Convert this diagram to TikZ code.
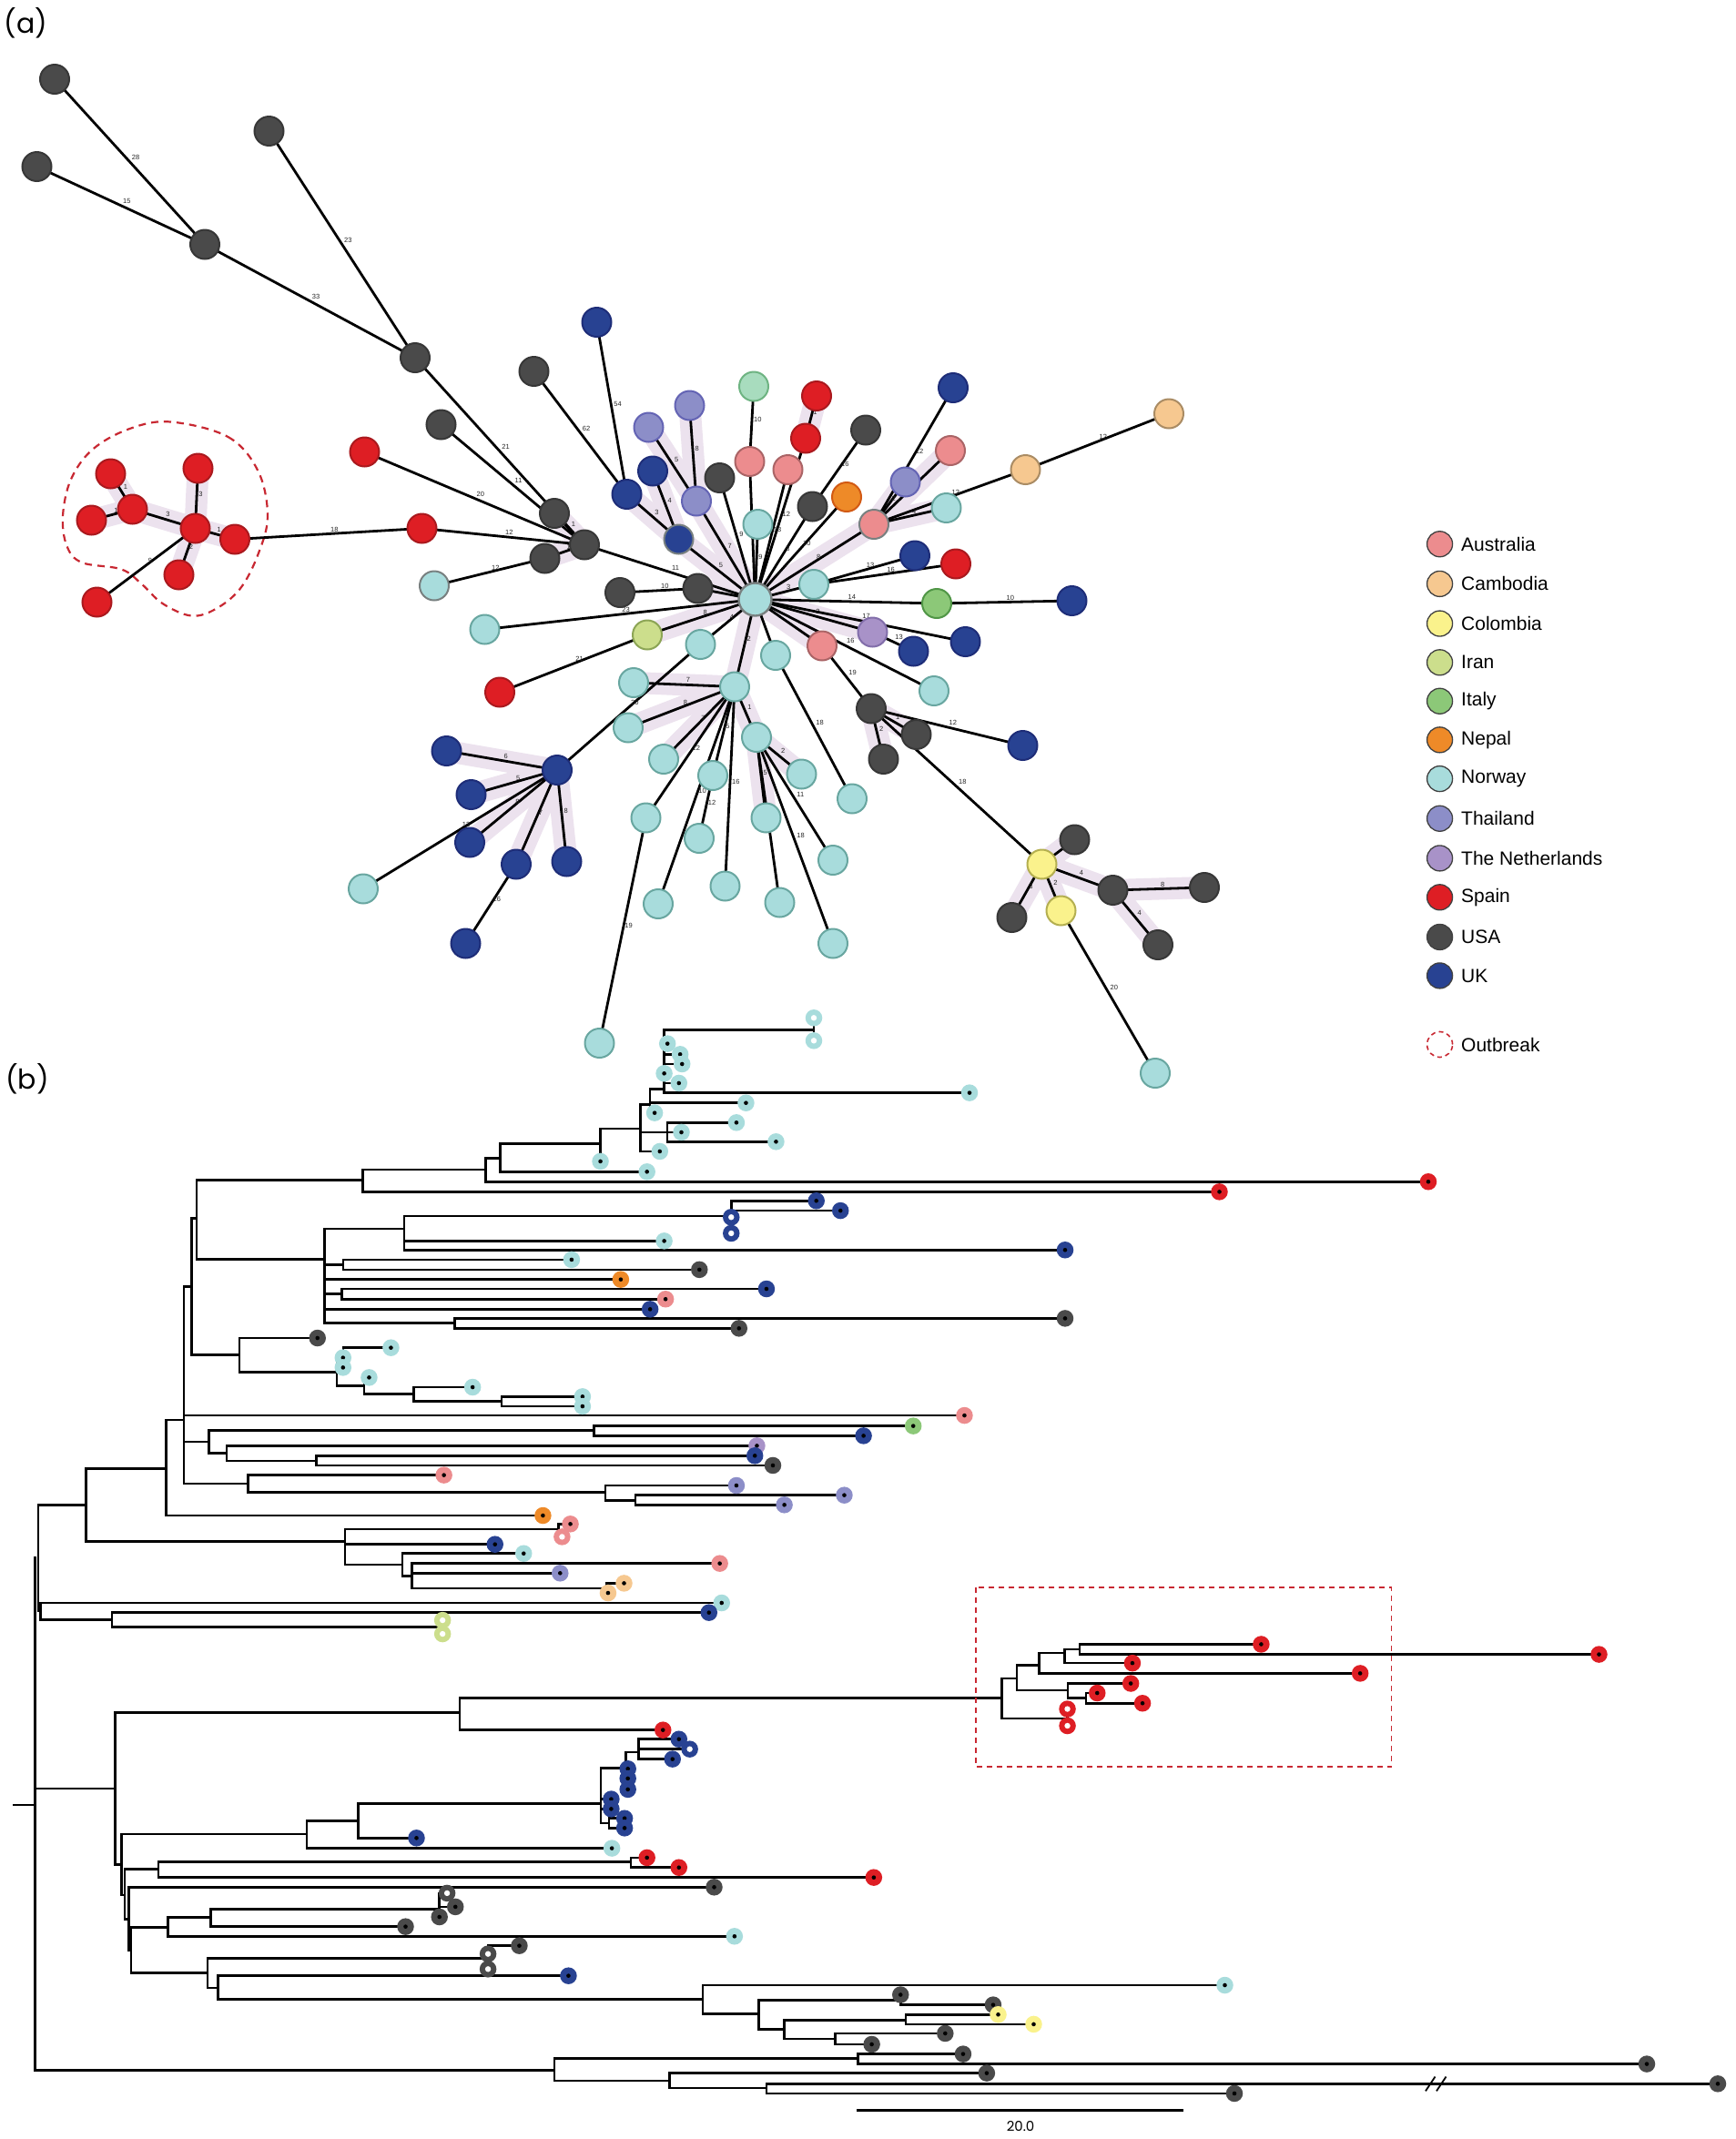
\documentclass[tikz,border=0pt]{standalone}
\usepackage{fontspec}
\setmainfont{Liberation Sans}
\newfontfamily\popfont{Poppins}
\definecolor{aus}{RGB}{236,140,142}\definecolor{ausb}{RGB}{170,100,102}
\definecolor{cam}{RGB}{246,200,144}\definecolor{camb}{RGB}{170,140,100}
\definecolor{col}{RGB}{250,242,140}\definecolor{colb}{RGB}{180,175,80}
\definecolor{iran}{RGB}{204,222,140}\definecolor{iranb}{RGB}{140,165,85}
\definecolor{italy}{RGB}{140,200,120}\definecolor{italyb}{RGB}{80,150,70}
\definecolor{nepal}{RGB}{238,138,40}\definecolor{nepalb}{RGB}{210,90,20}
\definecolor{nor}{RGB}{168,220,220}\definecolor{norb}{RGB}{104,166,160}
\definecolor{thai}{RGB}{140,142,200}\definecolor{thaib}{RGB}{100,100,180}
\definecolor{nl}{RGB}{168,146,200}\definecolor{nlb}{RGB}{130,110,170}
\definecolor{spain}{RGB}{222,30,36}\definecolor{spainb}{RGB}{170,25,30}
\definecolor{usa}{RGB}{74,74,74}\definecolor{usab}{RGB}{55,55,55}
\definecolor{uk}{RGB}{40,66,146}\definecolor{ukb}{RGB}{30,45,120}
\definecolor{mint}{RGB}{168,220,190}\definecolor{mintb}{RGB}{110,180,130}
\definecolor{shade}{RGB}{236,226,238}
\definecolor{obred}{RGB}{200,40,50}
\definecolor{grb}{RGB}{120,128,128}
\newcommand\ED[3]{\draw[ed] (#1) -- (#2) node[lbl, midway]{#3};}
\newcommand\SH[2]{\draw[shd] (#1) -- (#2);}
\newcommand\VB[3]{\draw[tr] (#1,#2) -- (#1,#3);}
\newcommand\HB[3]{\draw[tr] (#1,#3) -- (#2,#3);}
\newcommand\tp[4]{\node[tipm, fill=#4] (#1) at (#2,#3) {};}
\newcommand\tpr[4]{\node[tipr, fill=#4] (#1) at (#2,#3) {};}
\begin{document}
\begin{tikzpicture}[x=1.5pt,y=-1.5pt,
 nd/.style={circle, inner sep=0pt, minimum size=32pt, line width=2pt},
 ed/.style={line width=2.8pt, black},
 shd/.style={line width=24pt, color=shade, line cap=round},
 lbl/.style={font=\fontsize{7.5}{8}\selectfont, inner sep=1pt, anchor=south west, text=black!85},
 tr/.style={line width=2.5pt, black, line cap=rect},
 tipm/.style={circle, inner sep=0pt, minimum size=18.5pt, draw=none, path picture={\fill[black] (path picture bounding box.center) circle (2.3pt);}},
 tipr/.style={circle, inner sep=0pt, minimum size=18.5pt, draw=none, path picture={\fill[white] (path picture bounding box.center) circle (3.2pt);}},
 leg/.style={circle, inner sep=0pt, minimum size=28pt, line width=1.3pt},
 legt/.style={anchor=west, font=\fontsize{21}{24}\selectfont, inner sep=0pt},
 obline/.style={draw=obred, line width=2.2pt, dash pattern=on 8pt off 6pt}]
\useasboundingbox (0,0) rectangle (1271.33,1566.67);
\fill[white] (0,0) rectangle (1271.33,1566.67);
% ---------- labels (a) (b)
\node[font=\popfont\fontsize{30}{34}\selectfont, inner sep=0pt] (pa) at (19,17) {(a)};
\node[font=\popfont\fontsize{30}{34}\selectfont, inner sep=0pt] (pb) at (20,790.5) {(b)};
% ---------- network coordinates
\coordinate (u1) at (40,58); \coordinate (u2) at (27,122); \coordinate (u3) at (197,96);
\coordinate (u4) at (150,179); \coordinate (u5) at (304,262); \coordinate (u6) at (391,272);
\coordinate (u7) at (323,311); \coordinate (u8) at (406,376); \coordinate (u9) at (428,399);
\coordinate (u10) at (399,409); \coordinate (u11) at (454,434); \coordinate (u12) at (511,431);
\coordinate (ra) at (267,331); \coordinate (rb) at (309,387); \coordinate (lbx) at (318,429);
\coordinate (o1) at (81,347); \coordinate (o2) at (97,373); \coordinate (o3) at (67,381);
\coordinate (o4) at (145,343); \coordinate (o5) at (143,387); \coordinate (o6) at (172,395);
\coordinate (o7) at (131,421); \coordinate (o8) at (71,441);
\coordinate (C) at (553,439);
\coordinate (b1) at (437,236); \coordinate (th1) at (505,297); \coordinate (th2) at (475,313);
\coordinate (b2) at (478,345); \coordinate (b3) at (459,362); \coordinate (th3) at (510,367);
\coordinate (g1) at (527,350); \coordinate (b4) at (497,395);
\coordinate (mint) at (552,283); \coordinate (rd1) at (598,290); \coordinate (rd2) at (590,321);
\coordinate (pk1) at (549,338); \coordinate (pk2) at (577,344); \coordinate (g2) at (634,315);
\coordinate (g3) at (595,371); \coordinate (orng) at (620,364); \coordinate (lb1) at (555,384);
\coordinate (b5) at (698,284); \coordinate (pk3) at (696,330); \coordinate (th4) at (663,353);
\coordinate (pk4) at (640,384); \coordinate (lb2) at (693,372); \coordinate (cb1) at (751,344);
\coordinate (cb2) at (856,303);
\coordinate (b6) at (670,407); \coordinate (rd3) at (700,413); \coordinate (lb3) at (596,428);
\coordinate (it) at (686,442); \coordinate (b7) at (785,440);
\coordinate (lb4) at (355,461); \coordinate (ir) at (474,465); \coordinate (rd4) at (366,507);
\coordinate (lb5) at (513,472); \coordinate (nl) at (639,463); \coordinate (b8) at (707,470);
\coordinate (pk5) at (602,473); \coordinate (b9) at (669,477); \coordinate (lb6) at (568,480);
\coordinate (lb7) at (684,506);
\coordinate (lbh) at (538,503); \coordinate (g4) at (638,519); \coordinate (g5) at (671,538);
\coordinate (g6) at (647,556); \coordinate (b10) at (749,546);
\coordinate (lb8) at (464,500); \coordinate (lb9) at (460,533); \coordinate (lb10) at (486,556);
\coordinate (lb11) at (473,599); \coordinate (lb12) at (522,568); \coordinate (lb13) at (512,614);
\coordinate (lb14) at (482,662); \coordinate (lb15) at (531,649); \coordinate (lb16) at (554,540);
\coordinate (lb17) at (561,599); \coordinate (lb18) at (587,567); \coordinate (lb19) at (571,661);
\coordinate (lb20) at (610,691); \coordinate (lb21) at (610,630); \coordinate (lb22) at (624,585);
\coordinate (lb23) at (439,764);
\coordinate (bh) at (408,564); \coordinate (b11) at (327,550); \coordinate (b12) at (345,582);
\coordinate (b13) at (344,617); \coordinate (b14) at (378,633); \coordinate (b15) at (415,631);
\coordinate (b16) at (341,691); \coordinate (lb24) at (266,651);
\coordinate (y1) at (763,633); \coordinate (y2) at (777,667); \coordinate (g7) at (787,615);
\coordinate (g8) at (815,652); \coordinate (g9) at (882,650); \coordinate (g10) at (848,692);
\coordinate (g11) at (741,672); \coordinate (lb25) at (846,786);
% ---------- shading
\SH{o1}{o2}\SH{o3}{o2}\SH{o2}{o5}\SH{o4}{o5}\SH{o5}{o6}\SH{o5}{o7}
\SH{u8}{u9}\SH{u10}{u9}
\SH{b3}{b4}\SH{b2}{b4}\SH{b4}{C}\SH{th2}{th3}\SH{th1}{th3}\SH{th3}{C}
\SH{rd1}{rd2}
\SH{pk3}{pk4}\SH{th4}{pk4}\SH{lb2}{pk4}\SH{pk4}{C}
\SH{C}{nl}\SH{C}{pk5}\SH{C}{lbh}\SH{C}{ir}\SH{C}{u12}
\SH{lbh}{lb8}\SH{lbh}{lb9}\SH{lbh}{lb10}\SH{lbh}{lb16}\SH{lb16}{lb17}\SH{lb16}{lb18}
\SH{bh}{b11}\SH{bh}{b12}\SH{bh}{b13}\SH{bh}{b14}\SH{bh}{b15}
\SH{g4}{g5}\SH{g4}{g6}
\SH{y1}{g7}\SH{y1}{g8}\SH{g8}{g9}\SH{g8}{g10}\SH{y1}{g11}\SH{y1}{y2}
% ---------- outbreak outline
\draw[obline] plot[smooth cycle, tension=0.6] coordinates {(125,309) (167,320) (189,345) (196,378) (189,406) (176,431) (158,446) (140,451) (119,442) (104,428) (89,417) (60,412) (49,400) (46,378) (52,351) (68,329) (95,314)};
% ---------- edges
\ED{u1}{u4}{28}\ED{u2}{u4}{15}\ED{u4}{u5}{33}\ED{u3}{u5}{23}\ED{u5}{u9}{21}\ED{u7}{u9}{11}
\ED{u8}{u9}{1}\ED{u10}{u9}{1}\ED{lbx}{u10}{12}\ED{ra}{u9}{20}\ED{rb}{u9}{12}\ED{u9}{C}{11}
\ED{u11}{u12}{10}\ED{u12}{C}{}
\ED{o6}{rb}{18}\ED{o1}{o2}{1}\ED{o3}{o2}{1}\ED{o2}{o5}{3}\ED{o4}{o5}{3}\ED{o5}{o6}{1}\ED{o5}{o7}{2}\ED{o5}{o8}{9}
\ED{b1}{b3}{54}\ED{u6}{b3}{62}\ED{b3}{b4}{3}\ED{b2}{b4}{4}\ED{b4}{C}{5}\ED{th2}{th3}{5}\ED{th1}{th3}{8}
\ED{th3}{C}{7}\ED{g1}{C}{9}\ED{mint}{pk1}{10}\ED{pk1}{C}{18}\ED{lb1}{C}{9}\ED{rd1}{rd2}{1}\ED{rd2}{C}{12}
\ED{pk2}{C}{13}\ED{g2}{g3}{16}\ED{g3}{C}{8}\ED{orng}{C}{10}
\ED{b5}{pk4}{12}\ED{pk3}{pk4}{7}\ED{th4}{pk4}{2}\ED{lb2}{pk4}{4}\ED{pk4}{cb1}{12}\ED{cb1}{cb2}{12}\ED{pk4}{C}{8}
\ED{lb3}{C}{3}\ED{lb3}{b6}{13}\ED{lb3}{rd3}{16}\ED{it}{C}{14}\ED{it}{b7}{10}
\ED{C}{nl}{2}\ED{C}{b8}{17}\ED{nl}{b9}{13}\ED{C}{pk5}{}\ED{pk5}{g4}{19}\ED{C}{lb7}{16}\ED{C}{lb6}{}\ED{lb6}{lb22}{18}
\ED{C}{lbh}{2}\ED{C}{lb5}{4}\ED{C}{ir}{8}\ED{ir}{rd4}{21}\ED{C}{lb4}{23}\ED{lb5}{bh}{20}
\ED{lbh}{lb8}{7}\ED{lbh}{lb9}{8}\ED{lbh}{lb10}{7}\ED{lbh}{lb11}{12}\ED{lbh}{lb12}{5}\ED{lb12}{lb13}{12}
\ED{lbh}{lb14}{10}\ED{lbh}{lb15}{16}\ED{lbh}{lb16}{1}\ED{lb16}{lb17}{5}\ED{lb16}{lb18}{2}\ED{lb16}{lb19}{13}
\ED{lb16}{lb20}{18}\ED{lb16}{lb21}{11}\ED{lb11}{lb23}{19}
\ED{bh}{b11}{6}\ED{bh}{b12}{5}\ED{bh}{b13}{8}\ED{bh}{b14}{7}\ED{bh}{b15}{8}\ED{bh}{lb24}{13}\ED{b14}{b16}{16}
\ED{g4}{g5}{1}\ED{g4}{g6}{2}\ED{g4}{b10}{12}\ED{g4}{y1}{18}\ED{y1}{g7}{1}\ED{y1}{g8}{4}\ED{g8}{g9}{8}
\ED{g8}{g10}{4}\ED{y1}{g11}{3}\ED{y1}{y2}{2}\ED{y2}{lb25}{20}
% ---------- network nodes
\foreach \n in {u1,u2,u3,u4,u5,u6,u7,u8,u9,u10,u11,u12,g1,g2,g3,g4,g5,g6,g7,g8,g9,g10,g11}
  \node[nd, fill=usa, draw=usab] (\n-n) at (\n) {};
\foreach \n in {ra,rb,o1,o2,o3,o4,o5,o6,o7,o8,rd1,rd2,rd3,rd4}
  \node[nd, fill=spain, draw=spainb] (\n-n) at (\n) {};
\foreach \n in {lb1,lb2,lb3,lb4,lb5,lb6,lb7,lbh,lb8,lb9,lb10,lb11,lb12,lb13,lb14,lb15,lb16,lb17,lb18,lb19,lb20,lb21,lb22,lb23,lb24,lb25}
  \node[nd, fill=nor, draw=norb] (\n-n) at (\n) {};
\foreach \n in {b1,b2,b3,b5,b6,b7,b8,b9,b10,bh,b11,b12,b13,b14,b15,b16}
  \node[nd, fill=uk, draw=ukb] (\n-n) at (\n) {};
\foreach \n in {th1,th2,th3,th4}
  \node[nd, fill=thai, draw=thaib] (\n-n) at (\n) {};
\foreach \n in {pk1,pk2,pk3,pk5}
  \node[nd, fill=aus, draw=ausb] (\n-n) at (\n) {};
\foreach \n in {cb1,cb2}
  \node[nd, fill=cam, draw=camb] (\n-n) at (\n) {};
\foreach \n in {y1,y2}
  \node[nd, fill=col, draw=colb] (\n-n) at (\n) {};
\node[nd, fill=italy, draw=italyb] (it-n) at (it) {};
\node[nd, fill=iran, draw=iranb] (ir-n) at (ir) {};
\node[nd, fill=nl, draw=nlb] (nl-n) at (nl) {};
\node[nd, fill=nepal, draw=nepalb] (orng-n) at (orng) {};
\node[nd, fill=mint, draw=mintb] (mint-n) at (mint) {};
\node[nd, fill=aus, draw=grb] (pk4-n) at (pk4) {};
\node[nd, fill=uk, draw=grb] (b4-n) at (b4) {};
\node[nd, fill=nor, draw=grb] (lbx-n) at (lbx) {};
\node[nd, fill=nor, draw=grb, minimum size=36pt, line width=2.4pt] (C-n) at (C) {};
% ---------- legend
\foreach \c/\t/\y in {aus/Australia/398.5, cam/Cambodia/427.6, col/Colombia/456.7, iran/Iran/485.2,
  italy/Italy/513.5, nepal/Nepal/541.9, nor/Norway/570.4, thai/Thailand/599.5,
  nl/The Netherlands/628.6, spain/Spain/657.2, usa/USA/686.3, uk/UK/714.6}
 {\node[leg, fill=\c, draw=black!75] (leg-\c) at (1054.4,\y) {};
  \node[legt] (legt-\c) at (1070,\y) {\t};}
\node[leg, draw=obred, dash pattern=on 5pt off 4pt, line width=1.6pt] (leg-ob) at (1054.4,765) {};
\node[legt] (legt-ob) at (1070,765) {Outbreak};
% ---------- tree branches
\HB{10}{25.7}{1322}
\VB{25.7}{1141}{1516.2}
\VB{28}{1102.2}{1180}
\HB{28}{63.1}{1102.2}
\VB{63.1}{1075.6}{1128.9}
\HB{63.1}{121.6}{1075.6}
\HB{63.1}{252.6}{1128.9}
\VB{121.6}{1040}{1110}
\HB{121.6}{134.7}{1040}
\HB{121.6}{397.6}{1110}
\VB{134.7}{942.2}{1086.7}
\HB{134.7}{140.3}{942.2}
\HB{134.7}{706.3}{1036.7}
\HB{134.7}{153}{1056.1}
\HB{134.7}{181.5}{1086.7}
\VB{140.3}{892.2}{992.2}
\HB{140.3}{144.1}{892.2}
\HB{140.3}{175.4}{992.2}
\VB{144.1}{864.4}{922.2}
\HB{144.1}{265.7}{864.4}
\HB{144.1}{237.6}{922.2}
\VB{265.7}{856.7}{872.9}
\HB{265.7}{355.5}{856.7}
\HB{265.7}{893}{872.9}
\VB{355.5}{848.4}{865.5}
\HB{355.5}{366.2}{848.4}
\HB{355.5}{1046}{865.5}
\VB{366.2}{837.8}{858.2}
\HB{366.2}{439.7}{837.8}
\HB{366.2}{473.8}{858.2}
\VB{439.7}{826.7}{850.6}
\HB{439.7}{469.1}{826.7}
\VB{469.1}{808.9}{843.3}
\HB{469.1}{476.1}{808.9}
\HB{469.1}{488.8}{829.3}
\HB{469.1}{483.2}{843.3}
\VB{476.1}{797.8}{815.1}
\HB{476.1}{486.4}{797.8}
\HB{476.1}{546.3}{807.8}
\HB{476.1}{479.4}{815.1}
\VB{488.8}{822.2}{836.2}
\HB{488.8}{539.3}{822.2}
\HB{488.8}{499}{829.3}
\HB{488.8}{568.3}{836.2}
\VB{486.4}{754.4}{800.4}
\HB{486.4}{596}{754.4}
\HB{486.4}{488.8}{764.4}
\HB{486.4}{498.1}{772.2}
\HB{486.4}{499.5}{779.3}
\HB{486.4}{497.2}{793.3}
\HB{486.4}{710}{800.4}
\VB{596}{745.5}{762.2}
\VB{237.6}{900}{968.9}
\HB{237.6}{296.1}{900}
\HB{237.6}{251.2}{926.3}
\HB{237.6}{454.6}{937.1}
\HB{237.6}{250.2}{947.8}
\HB{237.6}{476.1}{958.9}
\HB{237.6}{333}{968.9}
\VB{296.1}{890.6}{915.5}
\HB{296.1}{535.5}{890.6}
\HB{296.1}{486.4}{908.9}
\HB{296.1}{780}{915.5}
\VB{535.5}{879.5}{903.3}
\HB{535.5}{597.8}{879.5}
\HB{535.5}{615.5}{886.7}
\VB{251.2}{922.6}{929.9}
\HB{251.2}{418.6}{922.6}
\HB{251.2}{512.2}{929.9}
\VB{250.2}{944}{951.5}
\HB{250.2}{561.3}{944}
\HB{250.2}{487.4}{951.5}
\VB{333}{965.6}{972.9}
\HB{333}{780}{965.6}
\HB{333}{541.2}{972.9}
\VB{175.4}{980}{1005}
\HB{175.4}{232.5}{980}
\HB{175.4}{246.5}{1005}
\VB{246.5}{994.4}{1015.1}
\HB{246.5}{251.2}{994.4}
\HB{246.5}{266.6}{1015.1}
\VB{251.2}{987.1}{1001.6}
\HB{251.2}{286.3}{987.1}
\VB{266.6}{1008.9}{1021.1}
\HB{266.6}{270.3}{1008.9}
\HB{266.6}{303.1}{1021.1}
\VB{303.1}{1016}{1026.2}
\HB{303.1}{346.1}{1016}
\HB{303.1}{367.2}{1026.2}
\VB{367.2}{1022.9}{1030}
\HB{367.2}{426.6}{1022.9}
\HB{367.2}{426.6}{1030}
\VB{153}{1047.8}{1064.4}
\HB{153}{435}{1047.8}
\HB{153}{166}{1064.4}
\VB{435}{1044.4}{1051.6}
\HB{435}{668.8}{1044.4}
\HB{435}{632.4}{1051.6}
\VB{166}{1058.9}{1070}
\HB{166}{554.3}{1058.9}
\HB{166}{231.5}{1070}
\VB{231.5}{1066.2}{1073.3}
\HB{231.5}{552.8}{1066.2}
\HB{231.5}{566}{1073.3}
\VB{181.5}{1080.4}{1092.9}
\HB{181.5}{325.1}{1080.4}
\HB{181.5}{443.4}{1092.9}
\VB{443.4}{1088}{1098.9}
\HB{443.4}{539.3}{1088}
\HB{443.4}{465.4}{1098.9}
\VB{465.4}{1095.1}{1102.2}
\HB{465.4}{618.3}{1095.1}
\HB{465.4}{574.4}{1102.2}
\VB{252.6}{1120}{1146}
\HB{252.6}{409}{1120}
\HB{252.6}{362.5}{1131.1}
\HB{252.6}{294.7}{1146}
\VB{409}{1116.2}{1125.6}
\HB{409}{417.7}{1116.2}
\HB{409}{411.6}{1125.6}
\VB{294.7}{1137.8}{1154.2}
\HB{294.7}{383.5}{1137.8}
\HB{294.7}{301.7}{1154.2}
\VB{301.7}{1145.1}{1163.3}
\HB{301.7}{527.1}{1145.1}
\HB{301.7}{410.2}{1152.2}
\HB{301.7}{444.3}{1163.3}
\VB{444.3}{1159.6}{1166.7}
\HB{444.3}{457}{1159.6}
\HB{444.3}{445.3}{1166.7}
\HB{28}{29.5}{1180}
\VB{29.5}{1174}{1186.4}
\HB{29.5}{528.5}{1174}
\HB{29.5}{81.9}{1186.4}
\VB{81.9}{1181.1}{1191.6}
\HB{81.9}{519.2}{1181.1}
\HB{81.9}{324.1}{1191.6}
\VB{324.1}{1186.7}{1196.7}
\HB{25.7}{84.2}{1310}
\VB{84.2}{1254.4}{1365.6}
\HB{84.2}{336.8}{1254.4}
\HB{84.2}{88.9}{1365.6}
\VB{336.8}{1243.7}{1267.1}
\HB{336.8}{733.8}{1243.7}
\HB{336.8}{485.5}{1267.1}
\VB{88.9}{1343.3}{1387.9}
\HB{88.9}{224.5}{1343.3}
\HB{88.9}{91.2}{1387.9}
\VB{224.5}{1333.7}{1353.7}
\HB{224.5}{262.2}{1333.7}
\HB{224.5}{448.1}{1353.7}
\VB{262.2}{1321.1}{1346.2}
\HB{262.2}{440.1}{1321.1}
\HB{262.2}{305}{1346.2}
\VB{440.1}{1295}{1335.4}
\HB{440.1}{458.4}{1295}
\HB{440.1}{447.6}{1317.7}
\HB{440.1}{447.6}{1324.9}
\HB{440.1}{446}{1335.4}
\VB{458.4}{1283.3}{1310.6}
\HB{458.4}{467.7}{1283.3}
\HB{458.4}{459.8}{1295.5}
\HB{458.4}{459.8}{1302.6}
\HB{458.4}{459.8}{1310.6}
\VB{467.7}{1273.8}{1288.4}
\HB{467.7}{497.2}{1273.8}
\HB{467.7}{505.1}{1281.1}
\HB{467.7}{492.5}{1288.4}
\VB{446}{1331.8}{1338.9}
\HB{446}{457.4}{1331.8}
\HB{446}{457.4}{1338.9}
\VB{91.2}{1368.9}{1405.5}
\HB{91.2}{116}{1368.9}
\HB{91.2}{94.2}{1405.5}
\VB{116}{1363.7}{1375.1}
\HB{116}{462.1}{1363.7}
\HB{116}{639.9}{1375.1}
\VB{462.1}{1360.6}{1367.8}
\HB{462.1}{473.8}{1360.6}
\HB{462.1}{497.2}{1367.8}
\VB{94.2}{1382.2}{1428.2}
\HB{94.2}{523}{1382.2}
\HB{94.2}{95.9}{1428.2}
\VB{95.9}{1411.5}{1444.9}
\HB{95.9}{123}{1411.5}
\HB{95.9}{152}{1444.9}
\VB{123}{1404.4}{1418.2}
\HB{123}{154.4}{1404.4}
\HB{123}{537.9}{1418.2}
\VB{154.4}{1398.2}{1411.1}
\HB{154.4}{321.8}{1398.2}
\HB{154.4}{297}{1411.1}
\VB{321.8}{1386.6}{1404}
\HB{321.8}{327.4}{1386.6}
\HB{321.8}{333.5}{1396.6}
\VB{152}{1434.4}{1456}
\HB{152}{357.4}{1434.4}
\HB{152}{159.5}{1456}
\VB{357.4}{1425.1}{1442.2}
\HB{357.4}{380.3}{1425.1}
\VB{159.5}{1447.1}{1464.4}
\HB{159.5}{416.3}{1447.1}
\HB{159.5}{514.5}{1464.4}
\VB{514.5}{1454}{1475.1}
\HB{514.5}{897}{1454}
\HB{514.5}{555.7}{1475.1}
\VB{555.7}{1465.1}{1486.4}
\HB{555.7}{659.5}{1465.1}
\HB{555.7}{574.4}{1486.4}
\VB{659.5}{1461}{1468.4}
\HB{659.5}{727.3}{1468.4}
\VB{574.4}{1479.5}{1493.3}
\HB{574.4}{663.2}{1479.5}
\HB{574.4}{611.8}{1493.3}
\VB{663.2}{1475.5}{1482.6}
\HB{663.2}{731}{1475.5}
\HB{663.2}{757}{1482.6}
\VB{611.8}{1489.3}{1497.3}
\HB{611.8}{692.2}{1489.3}
\HB{611.8}{638.4}{1497.3}
\HB{25.7}{406}{1516.2}
\VB{406}{1507.8}{1524}
\HB{406}{628.2}{1507.8}
\HB{406}{490.2}{1524}
\VB{628.2}{1504.4}{1511.7}
\HB{628.2}{705.3}{1504.4}
\HB{628.2}{1206}{1511.7}
\VB{490.2}{1518.4}{1529.3}
\HB{490.2}{722.6}{1518.4}
\HB{490.2}{561.3}{1529.3}
\VB{561.3}{1526.2}{1533.3}
\HB{561.3}{1258}{1526.2}
\HB{561.3}{904}{1533.3}
\draw[line width=1.8pt] (1044,1531.5) -- (1051,1521);
\draw[line width=1.8pt] (1052,1531.5) -- (1059,1521);
% outbreak subtree
\VB{733.8}{1229.3}{1258.7}
\HB{733.8}{744.7}{1229.3}
\HB{733.8}{781.7}{1258.7}
\VB{781.7}{1251.7}{1264}
\VB{744.7}{1219.7}{1237.9}
\HB{744.7}{761}{1219.7}
\HB{744.7}{782.1}{1237.9}
\VB{782.1}{1233}{1243.7}
\HB{782.1}{828.1}{1233}
\HB{782.1}{795.3}{1243.7}
\VB{795.3}{1240}{1247.5}
\HB{795.3}{803.5}{1240}
\HB{795.3}{836.7}{1247.5}
\VB{761}{1210.7}{1225.6}
\HB{761}{779.8}{1210.7}
\HB{761}{996.1}{1225.6}
\VB{779.8}{1208}{1218.1}
\HB{779.8}{790.7}{1208}
\HB{779.8}{829.3}{1218.1}
\VB{790.7}{1204.3}{1211.7}
\HB{790.7}{923.6}{1204.3}
\HB{790.7}{1171}{1211.7}
\draw[obline, line width=1.8pt, dash pattern=on 6pt off 5pt] (714.6,1162.7) rectangle (1019,1294);
% scale bar
\draw[tr] (628,1545.5) -- (866,1545.5);
\node[font=\popfont\fontsize{15}{18}\selectfont, inner sep=0pt] (scl) at (747.4,1557) {20.0};
% ---------- tree tips
\tpr{t1}{596}{745.5}{nor}\tpr{t2}{596}{762.2}{nor}\tp{t3}{488.8}{764.4}{nor}\tp{t4}{498.1}{772.2}{nor}
\tp{t5}{499.5}{779.3}{nor}\tp{t6}{486.4}{786.2}{nor}\tp{t7}{497.2}{793.3}{nor}\tp{t8}{710}{800.4}{nor}
\tp{t9}{546.3}{807.8}{nor}\tp{t10}{479.4}{815.1}{nor}\tp{t11}{539.3}{822.2}{nor}\tp{t12}{499}{829.3}{nor}
\tp{t13}{568.3}{836.2}{nor}\tp{t14}{483.2}{843.3}{nor}\tp{t15}{439.7}{850.6}{nor}\tp{t16}{473.8}{858.2}{nor}
\tp{t17}{1046}{865.5}{spain}\tp{t18}{893}{872.9}{spain}
\tp{t19}{597.8}{879.5}{uk}\tp{t20}{615.5}{886.7}{uk}\tpr{t21}{535.5}{891.5}{uk}\tpr{t22}{535.5}{903.3}{uk}
\tp{t23}{486.4}{908.9}{nor}\tp{t24}{780}{915.5}{uk}\tp{t25}{418.6}{922.6}{nor}\tp{t26}{512.2}{929.9}{usa}
\tp{t27}{454.6}{937.1}{nepal}\tp{t28}{561.3}{944}{uk}\tp{t29}{487.4}{951.5}{aus}\tp{t30}{476.1}{958.9}{uk}
\tp{t31}{780}{965.6}{usa}\tp{t32}{541.2}{972.9}{usa}
\tp{t33}{232.5}{980}{usa}\tp{t34}{286.3}{987.1}{nor}\tp{t35}{251.2}{994.4}{nor}\tp{t36}{251.2}{1001.6}{nor}
\tp{t37}{270.3}{1008.9}{nor}\tp{t38}{346.1}{1016}{nor}\tp{t39}{426.6}{1022.9}{nor}\tp{t40}{426.6}{1030}{nor}
\tp{t41}{706.3}{1036.7}{aus}\tp{t42}{668.8}{1044.4}{italy}\tp{t43}{632.4}{1051.6}{uk}\tp{t44}{554.3}{1058.9}{nl}
\tp{t45}{552.8}{1066.2}{uk}\tp{t46}{566}{1073.3}{usa}\tp{t47}{325.1}{1080.4}{aus}\tp{t48}{539.3}{1088}{thai}
\tp{t49}{618.3}{1095.1}{thai}\tp{t50}{574.4}{1102.2}{thai}\tp{t51}{397.6}{1110}{nepal}
\tp{t52}{417.7}{1116.2}{aus}\tpr{t53}{411.6}{1125.6}{aus}\tp{t54}{362.5}{1131.1}{uk}\tp{t55}{383.5}{1137.8}{nor}
\tp{t56}{527.1}{1145.1}{aus}\tp{t57}{410.2}{1152.2}{thai}\tp{t58}{457}{1159.6}{cam}\tp{t59}{445.3}{1166.7}{cam}
\tp{t60}{528.5}{1174}{nor}\tp{t61}{519.2}{1181.1}{uk}\tpr{t62}{324.1}{1186.7}{iran}\tpr{t63}{324.1}{1196.7}{iran}
\tp{t64}{923.6}{1204.3}{spain}\tp{t65}{1171}{1211.7}{spain}\tp{t66}{829.3}{1218.1}{spain}\tp{t67}{996.1}{1225.6}{spain}
\tp{t68}{828.1}{1233}{spain}\tp{t69}{803.5}{1240}{spain}\tp{t70}{836.7}{1247.5}{spain}
\tpr{t71}{781.7}{1251.7}{spain}\tpr{t72}{781.7}{1264}{spain}
\tp{t73}{485.5}{1267.1}{spain}
\tp{t74}{497.2}{1273.8}{uk}\tpr{t75}{505.1}{1281.1}{uk}\tp{t76}{492.5}{1288.4}{uk}\tp{t77}{459.8}{1295.5}{uk}
\tp{t78}{459.8}{1302.6}{uk}\tp{t79}{459.8}{1310.6}{uk}\tp{t80}{447.6}{1317.7}{uk}\tp{t81}{447.6}{1324.9}{uk}
\tp{t82}{457.4}{1331.8}{uk}\tp{t83}{457.4}{1338.9}{uk}\tp{t84}{305}{1346.2}{uk}\tp{t85}{448.1}{1353.7}{nor}
\tp{t86}{473.8}{1360.6}{spain}\tp{t87}{497.2}{1367.8}{spain}\tp{t88}{639.9}{1375.1}{spain}
\tp{t89}{523}{1382.2}{usa}\tpr{t90}{327.4}{1386.6}{usa}\tp{t91}{333.5}{1396.6}{usa}\tp{t92}{321.8}{1404}{usa}
\tp{t93}{297}{1411.1}{usa}\tp{t94}{537.9}{1418.2}{nor}
\tp{t95}{380.3}{1425.1}{usa}\tpr{t96}{357.4}{1431.1}{usa}\tpr{t97}{357.4}{1442.2}{usa}\tp{t98}{416.3}{1447.1}{uk}
\tp{t99}{897}{1454}{nor}\tp{t100}{659.5}{1461}{usa}\tp{t101}{727.3}{1468.4}{usa}\tp{t102}{731}{1475.5}{col}
\tp{t103}{757}{1482.6}{col}\tp{t104}{692.2}{1489.3}{usa}\tp{t105}{638.4}{1497.3}{usa}
\tp{t106}{705.3}{1504.4}{usa}\tp{t107}{1206}{1511.7}{usa}\tp{t108}{722.6}{1518.4}{usa}
\tp{t109}{1258}{1526.2}{usa}\tp{t110}{904}{1533.3}{usa}
\end{tikzpicture}
\end{document}
